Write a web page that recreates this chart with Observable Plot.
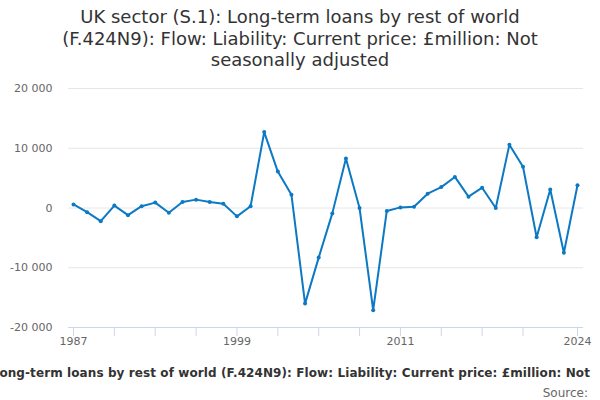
<!DOCTYPE html>
<html>
<head>
<meta charset="utf-8">
<script src="https://cdn.jsdelivr.net/npm/d3@7"></script>
<script src="https://cdn.jsdelivr.net/npm/@observablehq/plot@0.6"></script>
<style>
  body { margin: 0; width: 600px; height: 400px; overflow: hidden; background: #fff; font-family: "DejaVu Sans", sans-serif; }
  #title { height: 75px; box-sizing: border-box; padding-top: 6px; font-size: 18px; line-height: 21.5px; color: #333; text-align: center; white-space: nowrap; }
  #caption { position: relative; height: 16px; margin-top: 15px; overflow: hidden; }
  #caption span { position: absolute; right: 10px; top: 0; white-space: nowrap; font-weight: bold; font-size: 12px; letter-spacing: 0.09px; line-height: 16px; color: #333; }
  #source { margin-top: 4px; height: 16px; line-height: 16px; font-size: 12px; color: #666; text-align: right; padding-right: 12px; }
</style>
</head>
<body>
<div id="title">UK sector (S.1): Long-term loans by rest of world<br>(F.424N9): Flow: Liability: Current price: £million: Not<br>seasonally adjusted</div>
<div id="chart"></div>
<div id="caption"><span>UK sector (S.1): Long-term loans by rest of world (F.424N9): Flow: Liability: Current price: £million: Not</span></div>
<div id="source">Source:</div>
<script>
const years = [1987,1988,1989,1990,1991,1992,1993,1994,1995,1996,1997,1998,1999,2000,2001,2002,2003,2004,2005,2006,2007,2008,2009,2010,2011,2012,2013,2014,2015,2016,2017,2018,2019,2020,2021,2022,2023,2024];
const values = [600,-700,-2200,400,-1200,300,900,-800,1000,1400,1000,700,-1400,300,12700,6100,2200,-16000,-8300,-900,8300,0,-17100,-500,100,200,2400,3500,5200,1900,3400,0,10600,6900,-4900,3100,-7500,3800];
const xTicks = [1987,1990,1993,1996,1999,2002,2005,2008,2011,2014,2017,2020,2024];
const xLabels = [1987,1999,2011,2024];
const yTicks = [-20000,-10000,0,10000,20000];

const data = years.map((y, i) => ({year: y, value: values[i]}));
const fmt = d3.formatLocale({decimal: ".", thousands: " ", grouping: [3], currency: ["", ""], minus: "-"}).format(",");
const lineColor = "#0b79c3";

const chart = Plot.plot({
  width: 600,
  height: 275,
  marginTop: 13,
  marginBottom: 23,
  marginLeft: 68,
  marginRight: 17,
  style: {fontFamily: "DejaVu Sans, sans-serif", fontSize: "11px", background: "#fff"},
  x: {domain: [1987, 2024], range: [73, 577]},
  y: {domain: [-20000, 20000]},
  marks: [
    Plot.ruleY(yTicks.filter(d => d !== -20000), {stroke: "#e6e6e6", strokeWidth: 1}),
    Plot.ruleY([-20000], {stroke: "#ccd6eb", strokeWidth: 1}),
    Plot.axisY({ticks: yTicks, tickSize: 0, tickPadding: 16, tickFormat: fmt, fill: "#666", label: null}),
    Plot.axisX({ticks: xTicks, tickSize: 9, stroke: "#ccd6eb", tickFormat: () => "", label: null}),
    Plot.axisX({ticks: xLabels, tickSize: 0, tickPadding: 10, tickFormat: d => String(d), fill: "#666", label: null}),
    Plot.line(data, {x: "year", y: "value", stroke: lineColor, strokeWidth: 2}),
    Plot.dot(data, {x: "year", y: "value", fill: lineColor, r: 2})
  ]
});
document.getElementById("chart").appendChild(chart);
</script>
</body>
</html>
